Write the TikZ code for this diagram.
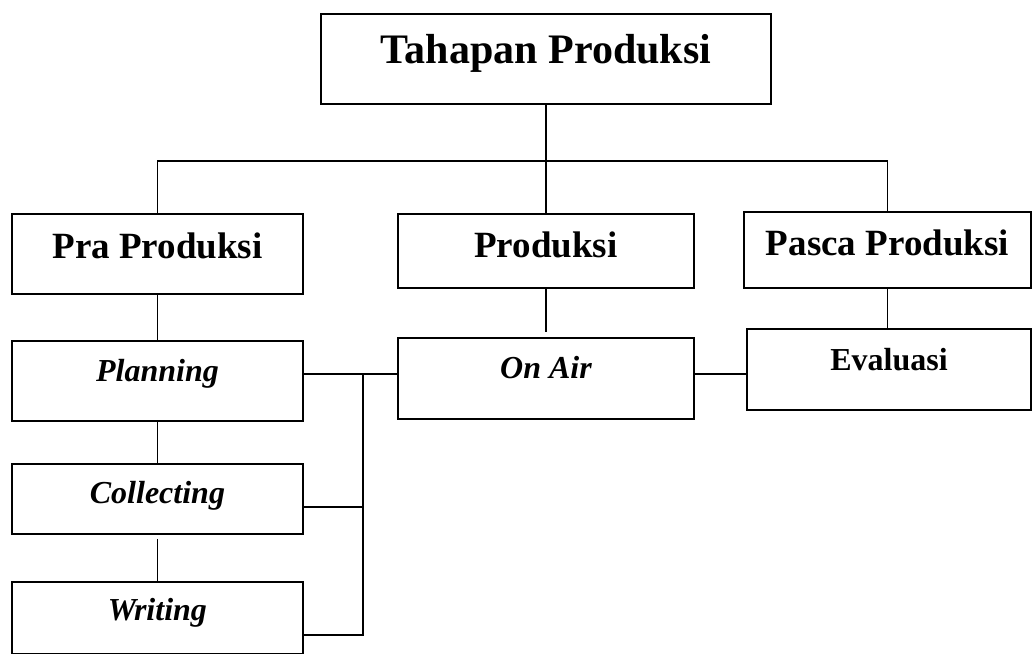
\documentclass[tikz,border=0pt]{standalone}
\usepackage{fontspec}
\setmainfont{Liberation Serif}
\usepackage{tikz}

\begin{document}
\begin{tikzpicture}[x=1pt, y=-1pt, line width=1.9pt,
    kotak/.style={draw, inner sep=0pt, anchor=north west, align=center},
    judul/.style={kotak, font=\fontsize{42}{50}\selectfont\bfseries},
    tahap/.style={kotak, font=\fontsize{37}{44}\selectfont\bfseries},
    kegiatan/.style={kotak, font=\fontsize{32}{38}\selectfont\bfseries\itshape},
    hasil/.style={kotak, font=\fontsize{32}{38}\selectfont\bfseries}]
  \useasboundingbox (0,0) rectangle (1032,653);
  \node[judul, minimum width=450pt, text height=50pt, text depth=40pt]
       (tahapan) at (320,13) {Tahapan Produksi};
  \node[tahap, minimum width=291pt, text height=45pt, text depth=35pt]
       (pra) at (11,213) {Pra Produksi};
  \node[tahap, minimum width=296pt, text height=44pt, text depth=30pt]
       (prod) at (397,213) {Produksi};
  \node[tahap, minimum width=287pt, text height=44pt, text depth=32pt]
       (pasca) at (743,211) {Pasca Produksi};
  \node[kegiatan, minimum width=291pt, text height=41pt, text depth=39pt]
       (planning) at (11,340) {Planning};
  \node[kegiatan, minimum width=291pt, text height=40pt, text depth=30pt]
       (collecting) at (11,463) {Collecting};
  \node[kegiatan, minimum width=291pt, text height=39pt, text depth=33pt]
       (writing) at (11,581) {Writing};
  \node[kegiatan, minimum width=296pt, text height=41pt, text depth=40pt]
       (onair) at (397,337) {On Air};
  \node[hasil, minimum width=284pt, text height=42pt, text depth=39pt]
       (evaluasi) at (746,328) {Evaluasi};
  \coordinate (cabang) at (545,161);
  \coordinate (s1) at (363,374);
  \coordinate (s2) at (363,507);
  \coordinate (s3) at (363,635);
  % cabang atas
  \draw (tahapan.south) -- (prod.north);
  \draw (pra.north) -- (pra.north |- cabang) -- (pasca.north |- cabang)
        -- (pasca.north);
  % turunan tiap tahap
  \draw (pra.south) -- (planning.north);
  \draw (planning.south) -- (collecting.north);
  \draw[shorten <=4pt] (collecting.south) -- (writing.north);
  \draw[shorten >=5pt] (prod.south) -- (onair.north);
  \draw (pasca.south) -- (pasca.south |- evaluasi.north);
  % penghubung
  \draw (planning.east |- s1) -- (s1) -- (s3) -- (writing.east |- s3);
  \draw (collecting.east |- s2) -- (s2);
  \draw (s1) -- (onair.west |- s1);
  \draw (onair.east |- s1) -- (evaluasi.west |- s1);
\end{tikzpicture}
\end{document}
